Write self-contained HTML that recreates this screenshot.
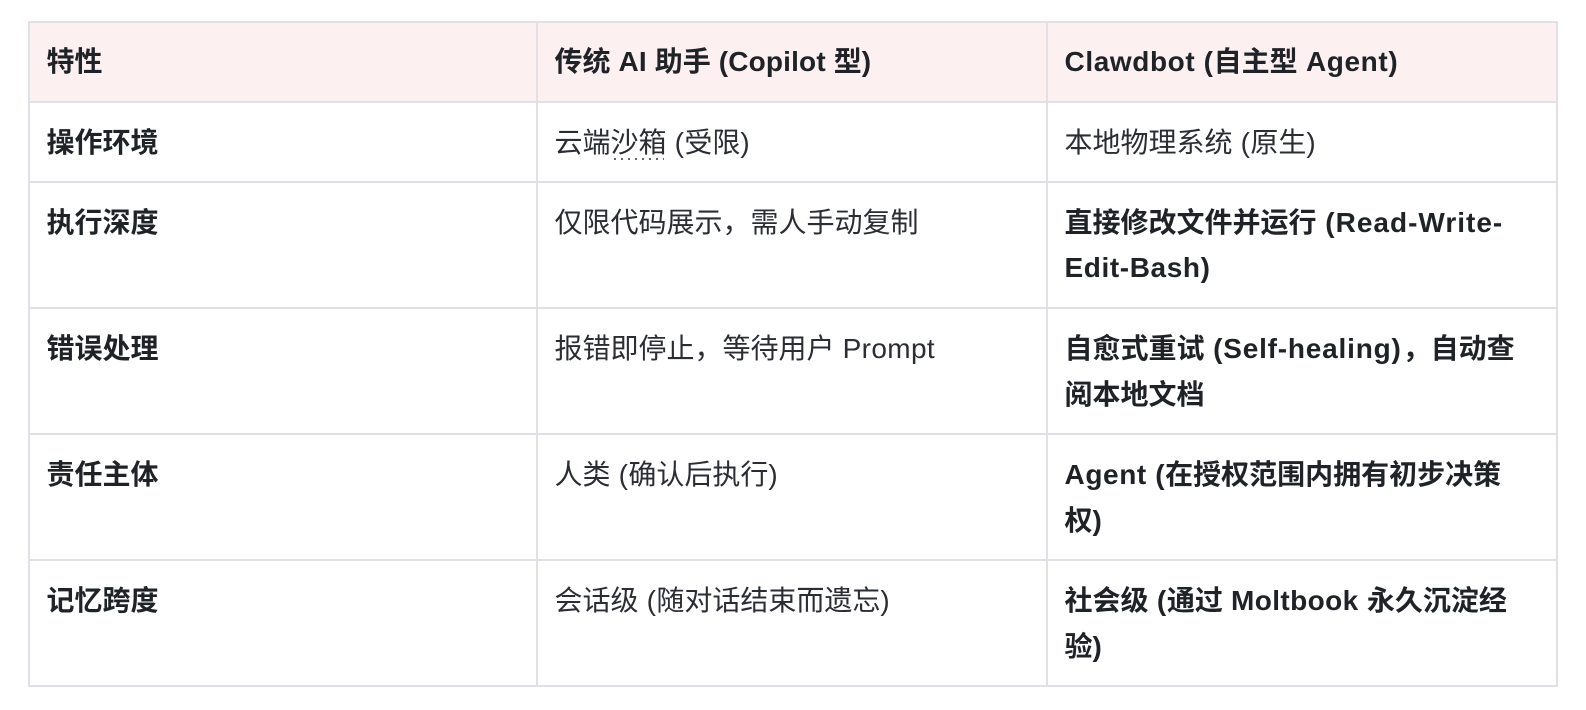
<!DOCTYPE html>
<html lang="zh"><head><meta charset="utf-8"><style>
html,body{margin:0;padding:0;background:#fff}
#p{position:relative;width:1586px;height:710px;overflow:hidden;background:#fff;font-family:"Liberation Sans","Noto Sans CJK SC",sans-serif;font-size:28px;color:#2a2d33}
.h,.v{position:absolute;background:#e0e0e6}
.h{left:28px;width:1530px;height:2px}
.v{top:21px;width:2px;height:666px}
.t{position:absolute;line-height:40px;height:40px;white-space:nowrap}
.b{font-weight:700;color:#1f2328}
.l{letter-spacing:.6px}
.r{letter-spacing:.35px}
</style></head><body><div id="p">
<div style="position:absolute;left:28px;top:22px;width:1530px;height:80px;background:#fdf0f1"></div>
<div class="h" style="top:21px"></div><div class="h" style="top:101px"></div><div class="h" style="top:181px"></div><div class="h" style="top:307px"></div><div class="h" style="top:433px"></div><div class="h" style="top:559px"></div><div class="h" style="top:685px"></div>
<div class="v" style="left:28px"></div><div class="v" style="left:536px"></div><div class="v" style="left:1046px"></div><div class="v" style="left:1556px"></div>

<div class="t b" style="left:46.5px;top:42px">特性</div>
<div class="t b" style="left:554.5px;top:42px">传统<span style="letter-spacing:.17px"> AI </span>助手<span style="letter-spacing:.17px"> (Copilot </span>型<span style="letter-spacing:.17px">)</span></div>
<div class="t b" style="left:1064.5px;top:42px"><span class="l">Clawdbot (</span>自主型<span class="l"> Agent)</span></div>

<div class="t b" style="left:46.5px;top:123px">操作环境</div>
<div class="t" style="left:554.5px;top:123px">云端沙箱<span class="r"> (</span>受限<span class="r">)</span></div>
<div style="position:absolute;left:614px;top:158px;width:50px;height:2px;background:repeating-linear-gradient(90deg,#666 0 2px,transparent 2px 7px)"></div>
<div class="t" style="left:1064.5px;top:123px">本地物理系统<span class="r"> (</span>原生<span class="r">)</span></div>

<div class="t b" style="left:46.5px;top:203px">执行深度</div>
<div class="t" style="left:554.5px;top:203px">仅限代码展示，需人手动复制</div>
<div class="t b" style="left:1064.5px;top:203px">直接修改文件并运行<span style="letter-spacing:1px"> (Read-Write-</span></div>
<div class="t b" style="left:1064.5px;top:248px"><span class="l">Edit-Bash)</span></div>

<div class="t b" style="left:46.5px;top:329px">错误处理</div>
<div class="t" style="left:554.5px;top:329px">报错即停止，等待用户<span class="r"> Prompt</span></div>
<div class="t b" style="left:1064.5px;top:329px">自愈式重试<span style="letter-spacing:.8px;margin-right:1px"> (Self-healing)</span>，自动查</div>
<div class="t b" style="left:1064.5px;top:375px">阅本地文档</div>

<div class="t b" style="left:46.5px;top:455px">责任主体</div>
<div class="t" style="left:554.5px;top:455px">人类<span class="r"> (</span>确认后执行<span class="r">)</span></div>
<div class="t b" style="left:1064.5px;top:455px"><span class="l">Agent (</span>在授权范围内拥有初步决策</div>
<div class="t b" style="left:1064.5px;top:501px">权<span class="l">)</span></div>

<div class="t b" style="left:46.5px;top:581px">记忆跨度</div>
<div class="t" style="left:554.5px;top:581px">会话级<span class="r"> (</span>随对话结束而遗忘<span class="r">)</span></div>
<div class="t b" style="left:1064.5px;top:581px">社会级<span class="l"> (</span>通过<span style="letter-spacing:.4px"> Moltbook </span>永久沉淀经</div>
<div class="t b" style="left:1064.5px;top:627px">验<span class="l">)</span></div>
</div></body></html>
